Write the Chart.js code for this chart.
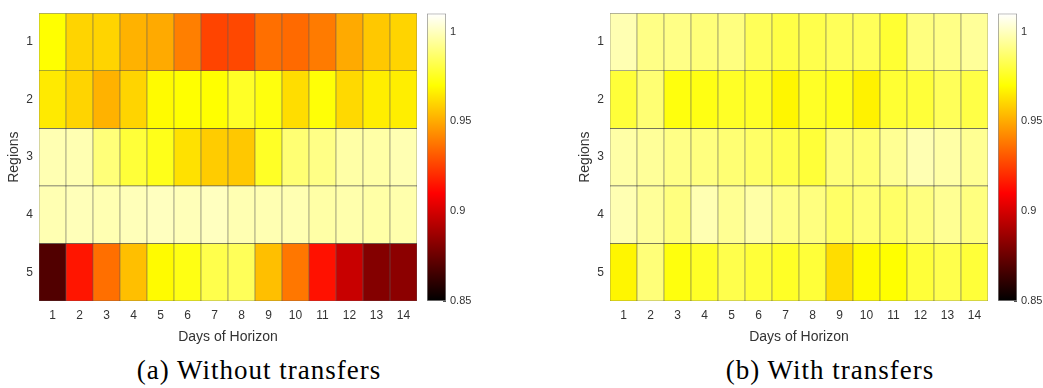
<!DOCTYPE html>
<html>
<head>
<meta charset="utf-8">
<script src="https://cdn.jsdelivr.net/npm/chart.js@4.4.1/dist/chart.umd.min.js"></script>
<style>
body { margin: 0; background: #fff; width: 1043px; height: 388px; position: relative; overflow: hidden; }
canvas { position: absolute; top: 0; }
.cap { position: absolute; top: 354px; font-family: 'Liberation Serif', 'Times New Roman', serif; font-size: 27px; letter-spacing: 1px; color: #000; transform: translateX(-50%); white-space: nowrap; line-height: 32px; }
</style>
</head>
<body>
<canvas id="heatA" width="425" height="350" style="left:0"></canvas>
<canvas id="barA" width="60" height="320" style="left:427px"></canvas>
<canvas id="heatB" width="425" height="350" style="left:571px"></canvas>
<canvas id="barB" width="45" height="320" style="left:998px"></canvas>
<div class="cap" style="left:259px">(a) Without transfers</div>
<div class="cap" style="left:830px">(b) With transfers</div>
<script>
var days = ['1', '2', '3', '4', '5', '6', '7', '8', '9', '10', '11', '12', '13', '14'];
var regions = ['1', '2', '3', '4', '5'];
var cbTicks = [0.85, 0.9, 0.95, 1];
var cbLabels = ['0.85', '0.9', '0.95', '1'];
var cmin = 0.85, cmax = 1.01;

// (a) without transfers, one array per region
var woR1 = [0.970, 0.960, 0.960, 0.952, 0.950, 0.940, 0.926, 0.927, 0.936, 0.935, 0.939, 0.950, 0.957, 0.960];
var woR2 = [0.965, 0.960, 0.952, 0.960, 0.969, 0.970, 0.970, 0.976, 0.972, 0.962, 0.971, 0.961, 0.966, 0.966];
var woR3 = [0.998, 0.998, 0.989, 0.979, 0.974, 0.963, 0.958, 0.957, 0.976, 0.988, 0.991, 0.996, 0.996, 0.998];
var woR4 = [0.998, 0.999, 0.998, 0.999, 1.000, 0.999, 1.000, 0.998, 0.998, 0.998, 0.996, 0.997, 0.996, 0.997];
var woR5 = [0.869, 0.915, 0.936, 0.955, 0.969, 0.973, 0.982, 0.984, 0.955, 0.938, 0.914, 0.897, 0.881, 0.883];

// (b) with transfers
var wR1 = [0.998, 0.991, 0.991, 0.989, 0.990, 0.984, 0.981, 0.982, 0.984, 0.984, 0.978, 0.990, 0.991, 0.994];
var wR2 = [0.979, 0.988, 0.972, 0.973, 0.976, 0.976, 0.968, 0.976, 0.974, 0.967, 0.978, 0.979, 0.984, 0.981];
var wR3 = [0.996, 0.994, 0.991, 0.990, 0.988, 0.986, 0.982, 0.979, 0.989, 0.988, 0.993, 0.998, 0.996, 0.993];
var wR4 = [0.998, 0.994, 0.990, 0.998, 0.993, 0.996, 0.991, 0.990, 0.986, 0.988, 0.986, 0.990, 0.993, 0.990];
var wR5 = [0.968, 0.989, 0.972, 0.976, 0.982, 0.979, 0.976, 0.979, 0.962, 0.969, 0.970, 0.979, 0.982, 0.979];

var txt = '#333';
var sans = "'Liberation Sans', Arial, sans-serif";

function clamp(x) { return Math.max(0, Math.min(1, x)); }

// matlab 'hot' colormap
function hot(v) {
    var t = clamp((v - cmin) / (cmax - cmin));
    var r = clamp(t / 0.375), g = clamp((t - 0.375) / 0.375), b = clamp((t - 0.75) / 0.25);
    return 'rgb(' + Math.round(r * 255) + ',' + Math.round(g * 255) + ',' + Math.round(b * 255) + ')';
}

function makeHeat(canvasId, rows) {
    var datasets = rows.map(function (vals, r) {
        return {
            label: regions[r],
            data: vals.map(function () { return [r + 0.5, r + 1.5]; }),
            backgroundColor: vals.map(hot),
            borderColor: 'rgba(40,40,40,0.75)',
            borderWidth: 0.6,
            borderSkipped: false,
            barPercentage: 1,
            categoryPercentage: 1,
            grouped: false
        };
    });
    new Chart(document.getElementById(canvasId), {
        type: 'bar',
        data: { labels: days, datasets: datasets },
        options: {
            responsive: false,
            animation: false,
            layout: { padding: { top: 9, right: 8, left: 0, bottom: 0 } },
            plugins: { legend: { display: false }, tooltip: { enabled: false } },
            scales: {
                x: {
                    grid: { display: false, drawTicks: false, tickLength: 0 },
                    border: { display: false },
                    ticks: { color: txt, font: { family: sans, size: 12 }, padding: 7, maxRotation: 0 },
                    title: { display: true, text: 'Days of Horizon', color: txt, font: { family: sans, size: 14 }, padding: { top: 0, bottom: 4 } },
                    afterFit: function (s) { s.height = 49; }
                },
                y: {
                    type: 'linear',
                    min: 0.5,
                    max: 5.5,
                    reverse: true,
                    grid: { display: false, drawTicks: false, tickLength: 0 },
                    border: { display: false },
                    afterBuildTicks: function (s) {
                        s.ticks = regions.map(function (r, i) { return { value: i + 1 }; });
                    },
                    ticks: {
                        color: txt, font: { family: sans, size: 12 }, padding: 6,
                        callback: function (v) { return regions[v - 1]; }
                    },
                    title: { display: true, text: 'Regions', color: txt, font: { family: sans, size: 14 }, padding: { top: 6, bottom: 0 } },
                    afterFit: function (s) { s.width = 39; }
                }
            }
        }
    });
}

function makeBar(canvasId, w) {
    new Chart(document.getElementById(canvasId), {
        type: 'bar',
        data: {
            labels: [''],
            datasets: [{
                data: [[cmin, cmax]],
                backgroundColor: function (ctx) {
                    var ch = ctx.chart, ys = ch.scales.y;
                    if (!ys || !ch.chartArea) return '#fff';
                    var y0 = ys.getPixelForValue(cmin), y1 = ys.getPixelForValue(cmax);
                    if (!isFinite(y0) || !isFinite(y1)) return '#fff';
                    var g = ch.ctx.createLinearGradient(0, y0, 0, y1);
                    g.addColorStop(0, 'rgb(0,0,0)');
                    g.addColorStop(0.375, 'rgb(255,0,0)');
                    g.addColorStop(0.75, 'rgb(255,255,0)');
                    g.addColorStop(1, 'rgb(255,255,255)');
                    return g;
                },
                borderColor: '#8a8a8a',
                borderWidth: 1,
                borderSkipped: false,
                barPercentage: 1,
                categoryPercentage: 1
            }]
        },
        options: {
            responsive: false,
            animation: false,
            layout: { padding: { top: 9, bottom: 19, left: 0, right: 0 } },
            plugins: { legend: { display: false }, tooltip: { enabled: false } },
            scales: {
                x: { display: false },
                y: {
                    position: 'right',
                    min: cmin,
                    max: cmax,
                    grid: { display: true, drawOnChartArea: false, drawTicks: true, tickLength: -3, color: '#555', lineWidth: 1 },
                    border: { display: false },
                    afterBuildTicks: function (s) {
                        s.ticks = cbTicks.map(function (v) { return { value: v }; });
                    },
                    ticks: {
                        color: txt, font: { family: sans, size: 11 }, padding: 7,
                        callback: function (v) { return cbLabels[cbTicks.indexOf(v)]; }
                    },
                    afterFit: function (s) { s.width = w - 19; }
                }
            }
        }
    });
}

makeHeat('heatA', [woR1, woR2, woR3, woR4, woR5]);
makeHeat('heatB', [wR1, wR2, wR3, wR4, wR5]);
makeBar('barA', 60);
makeBar('barB', 45);
</script>
</body>
</html>
